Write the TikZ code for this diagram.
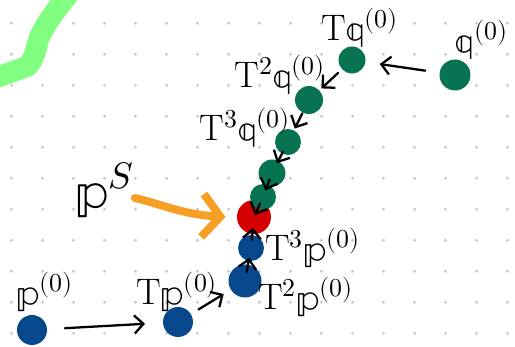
\documentclass[tikz,border=0pt]{standalone}
\usepackage{unicode-math}
\usetikzlibrary{arrows.meta}
\definecolor{pblue}{HTML}{07488C}
\definecolor{qgreen}{HTML}{077352}
\definecolor{sred}{HTML}{D40000}
\definecolor{porange}{HTML}{F5A024}
\definecolor{hlgreen}{HTML}{80FF80}
\definecolor{griddot}{HTML}{C8C8C8}
\tikzset{
  dot/.style={circle, inner sep=0pt, fill},
  harrow/.style={-{Straight Barb[length=0.18cm, width=0.36cm]}, line width=1.3pt, line cap=round},
  lbl/.style={inner sep=0pt, font=\fontsize{21}{24}\selectfont}
}
\begin{document}
\begin{tikzpicture}[x=0.02cm, y=-0.02cm]
\useasboundingbox (0,0) rectangle (515,347);
% dotted paper
\foreach \i in {0,...,16}
  \foreach \j in {0,...,10}
    \fill[griddot] (11.5+31*\i,23.3+31*\j) circle (1.6);
\begin{scope}
\clip (0,0) rectangle (515,347);
\draw[hlgreen, line width=0.42cm, line cap=round, line join=round] (-10,80) -- (28,66) .. controls (36,57) and (36,45) .. (40,36) .. controls (48,20) and (56,10) .. (68,-5);
\end{scope}
% the p sequence
\node[dot, minimum size=0.6cm, fill=pblue] (pid0) at (32,330){};
\node[dot, minimum size=0.6cm, fill=pblue] (pid1) at (178,322){};
\node[dot, minimum size=0.66cm, fill=pblue] (pid2) at (245,281){};
\node[dot, minimum size=0.52cm, fill=pblue] (pid3) at (251,248){};
% the fixed point
\node[dot, minimum size=0.68cm, fill=sred] (pS) at (254,217){};
% the q sequence
\node[dot, minimum size=0.62cm, fill=qgreen] (qid0) at (455,75){};
\node[dot, minimum size=0.54cm, fill=qgreen] (qid1) at (352,60){};
\node[dot, minimum size=0.56cm, fill=qgreen] (qid2) at (309,100){};
\node[dot, minimum size=0.52cm, fill=qgreen] (qid3) at (288,142){};
\node[dot, minimum size=0.54cm, fill=qgreen] (qid4) at (272,173){};
\node[dot, minimum size=0.52cm, fill=qgreen] (qid5) at (263,197){};
\draw[harrow, shorten <=0.66cm, shorten >=0.66cm](pid0.center) -- (pid1.center);
\draw[harrow, shorten <=0.48cm, shorten >=0.5cm](pid1.center) -- (pid2.center);
\draw[harrow, shorten <=0.18cm, shorten >=0.2cm](pid2.center) -- (pid3.center);
\draw[harrow, shorten <=0.16cm, shorten >=0.22cm](pid3.center) -- (pS.center);
\draw[harrow, shorten <=0.6cm, shorten >=0.56cm](qid0.center) -- (qid1.center);
\draw[harrow, shorten <=0.38cm, shorten >=0.34cm](qid1.center) -- (qid2.center);
\draw[harrow, shorten <=0.3cm, shorten >=0.3cm](qid2.center) -- (qid3.center);
\draw[harrow, shorten <=0.22cm, shorten >=0.22cm](qid3.center) -- (qid4.center);
\draw[harrow, shorten <=0.14cm, shorten >=0.14cm](qid4.center) -- (qid5.center);
\draw[harrow, shorten <=0.14cm, shorten >=0.04cm](qid5.center) -- (pS.center);
% labels
\node[lbl] (lp0) at (45,292){$\mathbb{p}^{(0)}$};
\node[lbl] (lp1) at (177,292){$\mathrm{T}\mathbb{p}^{(0)}$};
\node[lbl] (lp2) at (306,297){$\mathrm{T}^2\mathbb{p}^{(0)}$};
\node[lbl] (lp3) at (313,248){$\mathrm{T}^3\mathbb{p}^{(0)}$};
\node[lbl, font=\fontsize{30}{34}\selectfont] (lpS) at (105,190){$\mathbb{p}^{S}$};
\node[lbl] (lq0) at (482,40){$\mathbb{q}^{(0)}$};
\node[lbl] (lq1) at (360,28){$\mathrm{T}\mathbb{q}^{(0)}$};
\node[lbl] (lq2) at (280,75){$\mathrm{T}^2\mathbb{q}^{(0)}$};
\node[lbl] (lq3) at (245,128){$\mathrm{T}^3\mathbb{q}^{(0)}$};
\draw[porange, line width=0.16cm, line cap=round, line join=round, -{Straight Barb[length=0.36cm, width=0.86cm]}] (lpS.east) ++(0,8) .. controls (165,205) and (180,214) .. ([xshift=-0.22cm]pS.west);
\end{tikzpicture}
\end{document}
